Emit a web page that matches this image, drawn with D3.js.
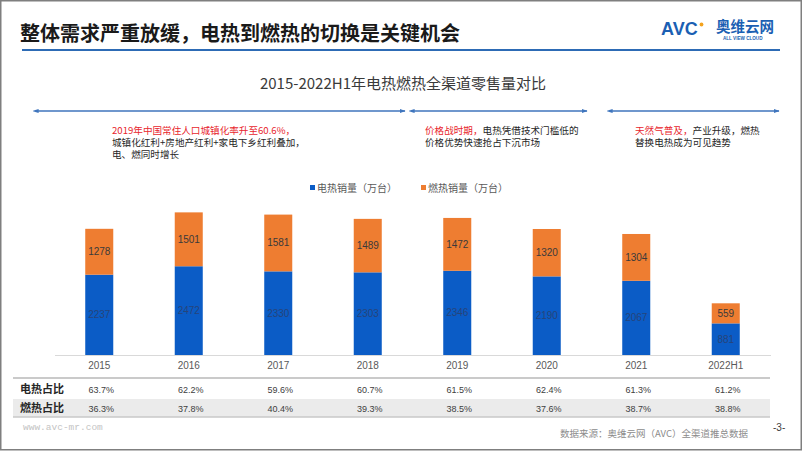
<!DOCTYPE html>
<html><head><meta charset="utf-8">
<script src="https://cdn.jsdelivr.net/npm/d3@7"></script>
<style>
html,body{margin:0;padding:0;background:#fff;}
svg{display:block;font-family:"Noto Sans CJK SC","Noto Sans",sans-serif;}
</style></head>
<body>
<svg id="c" width="802" height="451"></svg>
<script>
const categories = ["2015","2016","2017","2018","2019","2020","2021","2022H1"];
const electricSales = [2237,2472,2330,2303,2346,2190,2067,881];
const gasSales = [1278,1501,1581,1489,1472,1320,1304,559];
const electricShare = ["63.7%","62.2%","59.6%","60.7%","61.5%","62.4%","61.3%","61.2%"];
const gasShare = ["36.3%","37.8%","40.4%","39.3%","38.5%","37.6%","38.7%","38.8%"];
const seriesNames = ["电热销量（万台）","燃热销量（万台）"];
const rowNames = ["电热占比","燃热占比"];
const title = "整体需求严重放缓，电热到燃热的切换是关键机会";
const subtitle = "2015-2022H1年电热燃热全渠道零售量对比";

const BLUE = "#0b5cc6", ORANGE = "#ee7d31";
const svg = d3.select("#c");

// frame
svg.append("rect").attr("x",0.75).attr("y",0.75).attr("width",800.5).attr("height",449)
  .attr("fill","none").attr("stroke","#7f7f7f").attr("stroke-width",1.5);

// title
svg.append("text").attr("x",20).attr("y",41).text(title)
  .attr("font-size",20).attr("font-weight",700).attr("fill","#1a1a1a");
svg.append("line").attr("x1",22).attr("x2",780).attr("y1",50).attr("y2",50)
  .attr("stroke","#2d6bb5").attr("stroke-width",2);

// logo
const logo = svg.append("g");
logo.append("text").attr("x",661).attr("y",34.5).text("AVC")
  .attr("font-family","Liberation Sans,Arial,sans-serif").attr("font-size",18).attr("font-weight",900)
  .attr("fill","#1b5fb3");
logo.append("circle").attr("cx",701.5).attr("cy",24.5).attr("r",1.9).attr("fill","#f3a21d");
logo.append("text").attr("x",716).attr("y",32).text("奥维云网")
  .attr("font-size",14.5).attr("font-weight",700).attr("fill","#1b5fb3");
logo.append("text").attr("x",723).attr("y",39.5).text("ALL VIEW CLOUD")
  .attr("font-family","Liberation Sans,Arial,sans-serif").attr("font-size",4.6).attr("font-weight",700)
  .attr("fill","#1b5fb3");

// subtitle
svg.append("text").attr("x",403).attr("y",89).attr("text-anchor","middle").text(subtitle)
  .attr("font-size",15).attr("fill","#3a3a3a");

// arrows
const defs = svg.append("defs");
["s","e"].forEach(k=>{
  defs.append("marker").attr("id","m"+k).attr("viewBox","0 0 10 10").attr("refX",k==="e"?9:1).attr("refY",5)
    .attr("markerWidth",6).attr("markerHeight",6).attr("orient","auto-start-reverse")
    .attr("markerUnits","userSpaceOnUse")
    .append("path").attr("d","M0,1.5 L10,5 L0,8.5 Z").attr("fill","#3f75bd");
});
const spans = [[38,405],[414,587],[612,779]];
spans.forEach(s=>{
  svg.append("line").attr("x1",s[0]).attr("x2",s[1]).attr("y1",111).attr("y2",111)
    .attr("stroke","#3f75bd").attr("stroke-width",1.3)
    .attr("marker-start","url(#ms)").attr("marker-end","url(#me)");
});

// annotations
const notes = [
  {x:112, lines:[[["2019年中国常住人口城镇化率升至60.6%，","#e8262d"]],[["城镇化红利+房地产红利+家电下乡红利叠加，","#262626"]],[["电、燃同时增长","#262626"]]]},
  {x:425, lines:[[["价格战时期，","#e8262d"],["电热凭借技术门槛低的","#262626"]],[["价格优势快速抢占下沉市场","#262626"]]]},
  {x:635, lines:[[["天然气普及，","#e8262d"],["产业升级，燃热","#262626"]],[["替换电热成为可见趋势","#262626"]]]}
];
notes.forEach(n=>{
  n.lines.forEach((ln,i)=>{
    const t = svg.append("text").attr("x",n.x).attr("y",134+i*12).attr("font-size",9.6);
    ln.forEach(seg=>t.append("tspan").text(seg[0]).attr("fill",seg[1]));
  });
});

// legend
const legend = [[310,BLUE,seriesNames[0]],[421,ORANGE,seriesNames[1]]];
legend.forEach(l=>{
  svg.append("rect").attr("x",l[0]).attr("y",185).attr("width",5).attr("height",5).attr("fill",l[1]);
  svg.append("text").attr("x",l[0]+7).attr("y",191.5).text(l[2]).attr("font-size",10).attr("fill","#595959");
});

// scales
const x = d3.scaleBand().domain(categories).range([54.5,770.5]).paddingInner(0.687).paddingOuter(0.3435);
const y = d3.scaleLinear().domain([0,4000]).range([355,211.4]);

const data = categories.map((c,i)=>({c, e:electricSales[i], g:gasSales[i]}));
const bars = svg.append("g");
bars.selectAll(".be").data(data).join("rect")
  .attr("x",d=>x(d.c)).attr("width",x.bandwidth())
  .attr("y",d=>y(d.e)).attr("height",d=>y(0)-y(d.e)).attr("fill",BLUE);
bars.selectAll(".bg").data(data).join("rect")
  .attr("x",d=>x(d.c)).attr("width",x.bandwidth())
  .attr("y",d=>y(d.e+d.g)).attr("height",d=>y(d.e)-y(d.e+d.g)).attr("fill",ORANGE);
// labels
svg.append("g").selectAll("text").data(data).join("text")
  .attr("x",d=>x(d.c)+x.bandwidth()/2).attr("y",d=>(y(d.e)+y(d.e+d.g))/2+3.5)
  .attr("text-anchor","middle").attr("font-family","Liberation Sans,Arial,sans-serif")
  .attr("font-size",10).attr("fill","#3a3a3a").text(d=>d.g);
svg.append("g").selectAll("text").data(data).join("text")
  .attr("x",d=>x(d.c)+x.bandwidth()/2).attr("y",d=>(y(0)+y(d.e))/2+3.5)
  .attr("text-anchor","middle").attr("font-family","Liberation Sans,Arial,sans-serif")
  .attr("font-size",10).attr("fill","#26447a").text(d=>d.e);

// axis
const ax = svg.append("g").attr("transform","translate(0,355)")
  .call(d3.axisBottom(x).tickSize(0).tickPadding(7));
ax.select(".domain").attr("stroke","#d9d9d9").attr("stroke-width",1);
ax.selectAll("text").attr("font-size",10).attr("fill","#595959")
  .attr("font-family","Liberation Sans,Arial,sans-serif");

// table
svg.append("rect").attr("x",13).attr("y",399).attr("width",757).attr("height",18).attr("fill","#ebebeb");
svg.append("line").attr("x1",13).attr("x2",770).attr("y1",378).attr("y2",378).attr("stroke","#b8b8b8").attr("stroke-width",1.5);
svg.append("line").attr("x1",13).attr("x2",770).attr("y1",417).attr("y2",417).attr("stroke","#c8c8c8").attr("stroke-width",1.5);
[[electricShare,389],[gasShare,408]].forEach((r,ri)=>{
  svg.append("text").attr("x",20).attr("y",r[1]+4).text(rowNames[ri])
    .attr("font-size",11).attr("font-weight",700).attr("fill","#262626");
  svg.append("g").selectAll("text").data(r[0]).join("text")
    .attr("x",(d,i)=>x(categories[i])+x.bandwidth()/2+2).attr("y",r[1]+3.5)
    .attr("text-anchor","middle").attr("font-family","Liberation Sans,Arial,sans-serif")
    .attr("font-size",9).attr("fill","#404040").text(d=>d);
});

// footer
svg.append("text").attr("x",23).attr("y",430).text("www.avc-mr.com")
  .attr("font-family","Liberation Mono,monospace").attr("font-size",9.5).attr("fill","#c4c4c4");
svg.append("text").attr("x",748).attr("y",437).attr("text-anchor","end").text("数据来源：奥维云网（AVC）全渠道推总数据")
  .attr("font-size",9.5).attr("fill","#8c8c8c");
svg.append("text").attr("x",773).attr("y",431).text("-3-")
  .attr("font-family","Liberation Sans,Arial,sans-serif").attr("font-size",10).attr("fill","#404040");
</script>
</body></html>
